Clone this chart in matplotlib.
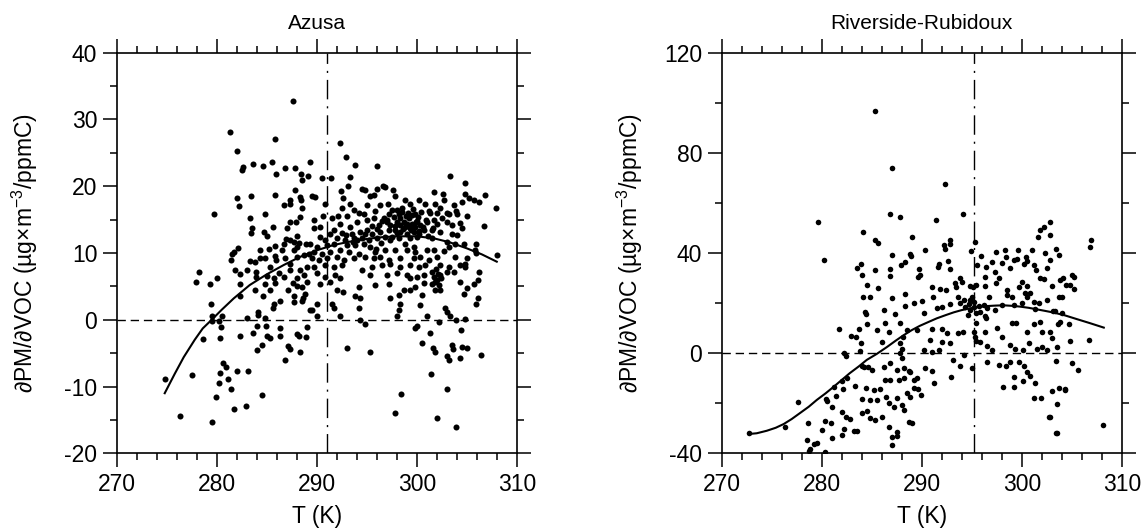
import matplotlib
matplotlib.use("Agg")
import numpy as np
import matplotlib.pyplot as plt
from matplotlib.ticker import MultipleLocator

plt.rcParams['font.family'] = ['Liberation Sans', 'DejaVu Sans']
plt.rcParams['mathtext.fontset'] = 'custom'
plt.rcParams['mathtext.rm'] = 'Liberation Sans'
plt.rcParams['axes.unicode_minus'] = False

#%% data: (T in K, dPM/dVOC)
azusa_pts = [
    (287.6, 32.8), (281.3, 28.1), (285.8, 27.1), (282.0, 25.3), (285.5, 23.7), (283.6, 23.3),
    (284.6, 23.0), (282.6, 22.9), (282.5, 22.5), (286.8, 22.8), (287.8, 22.7), (289.3, 23.7),
    (288.4, 21.9), (289.1, 21.5), (285.9, 21.8), (288.5, 21.0), (287.8, 19.5), (282.0, 18.3),
    (283.4, 18.5), (285.8, 18.7), (282.2, 17.1), (287.3, 18.0), (288.3, 18.4), (288.4, 17.9),
    (286.7, 17.2), (287.3, 17.3), (288.5, 16.8), (279.7, 15.9), (284.8, 15.9), (283.3, 15.3),
    (288.3, 15.4), (287.9, 14.7), (287.3, 14.7), (287.0, 13.8), (285.6, 13.9), (283.5, 13.8),
    (283.4, 13.0), (284.7, 13.2), (285.0, 12.6), (288.0, 12.5), (286.9, 12.1), (287.3, 11.9),
    (287.7, 11.7), (288.2, 11.5), (288.9, 11.3), (286.7, 11.3), (282.1, 10.8), (285.8, 11.0),
    (284.3, 10.5), (285.2, 10.6), (281.7, 10.1), (281.5, 9.8), (286.5, 10.4), (287.7, 10.5),
    (288.0, 10.9), (289.2, 9.9), (288.7, 9.7), (281.4, 8.9), (283.3, 8.8), (283.8, 8.7),
    (284.3, 9.3), (284.8, 9.2), (285.8, 9.5), (285.9, 9.0), (286.8, 9.2), (287.3, 8.4),
    (288.0, 9.4), (281.8, 7.4), (283.0, 7.4), (282.3, 6.9), (283.9, 7.2), (285.3, 7.9),
    (286.2, 7.0), (287.3, 7.4), (288.3, 7.4), (289.0, 7.9), (278.2, 7.2), (283.9, 6.4),
    (285.0, 6.5), (285.7, 6.2), (286.7, 6.4), (288.0, 6.2), (288.7, 6.7), (277.9, 5.6),
    (279.3, 5.3), (280.0, 6.3), (282.3, 5.4), (284.8, 5.3), (285.8, 5.5), (287.6, 5.5),
    (288.0, 5.0), (288.5, 4.9), (283.8, 4.4), (285.3, 4.5), (287.1, 4.5), (282.3, 3.5),
    (284.6, 3.6), (287.7, 3.5), (288.6, 3.2), (285.7, 2.4), (286.3, 2.8), (287.7, 2.6),
    (279.4, 2.3), (285.6, 1.7), (288.5, 2.8), (289.3, 1.5), (279.5, 0.5), (280.5, 0.6),
    (284.1, 1.2), (284.1, 0.7), (283.0, 0.3), (284.8, 0.2), (279.5, -0.2), (280.2, -0.2),
    (280.4, -1.1), (284.0, -0.9), (284.9, -1.0), (286.3, -1.2), (289.0, -1.1), (278.6, -2.9),
    (280.3, -2.8), (282.3, -2.5), (283.6, -2.0), (285.0, -2.4), (285.3, -2.7), (286.3, -2.4),
    (288.0, -2.1), (288.2, -2.5), (288.9, -2.6), (284.5, -3.8), (284.0, -4.5), (287.1, -4.0),
    (287.3, -4.4), (288.3, -4.9), (286.8, -6.0), (280.6, -6.5), (280.9, -7.0), (280.3, -8.0),
    (282.0, -7.7), (283.1, -7.7), (274.8, -8.8), (277.5, -8.3), (281.1, -8.8), (280.2, -9.4),
    (281.4, -10.3), (284.5, -11.3), (279.9, -11.6), (282.9, -12.9), (281.7, -13.4),
    (276.3, -14.4), (279.5, -15.3),
    (292.3, 26.4), (292.9, 24.4), (293.8, 23.2), (296.0, 23.0), (290.5, 21.3), (291.4, 21.2),
    (293.3, 21.4), (303.3, 21.5), (304.8, 20.5), (292.4, 19.3), (293.1, 20.0), (294.5, 19.6),
    (294.8, 19.5), (296.0, 19.6), (296.6, 20.0), (296.8, 19.9), (297.6, 19.5), (289.5, 18.5),
    (289.8, 18.4), (292.6, 18.3), (295.3, 18.5), (295.7, 18.7), (297.8, 18.6), (301.7, 19.1),
    (302.6, 18.8), (304.8, 18.9), (305.2, 18.2), (305.7, 18.0), (290.8, 17.4), (293.3, 17.4),
    (298.8, 17.9), (300.2, 18.0), (292.5, 16.7), (293.7, 16.5), (295.0, 17.2), (296.3, 17.2),
    (297.1, 17.4), (299.3, 17.4), (300.8, 17.4), (301.8, 17.3), (302.7, 17.9), (303.7, 17.2),
    (304.5, 17.7), (290.6, 15.6), (291.5, 15.2), (292.1, 15.5), (293.0, 15.6), (294.2, 16.0),
    (294.7, 15.9), (295.8, 16.3), (297.2, 15.9), (298.0, 16.4), (298.5, 16.2), (299.8, 15.9),
    (301.2, 16.3), (302.3, 16.7), (303.0, 16.0), (304.0, 15.8), (305.0, 15.5), (289.7, 14.9),
    (289.7, 13.8), (290.3, 13.9), (292.3, 14.4), (291.7, 13.4), (293.3, 13.9), (294.0, 14.7),
    (295.0, 14.9), (295.7, 15.2), (296.7, 15.3), (297.7, 15.4), (298.3, 15.2), (298.7, 14.7),
    (299.2, 15.2), (299.5, 14.4), (300.0, 14.8), (300.3, 14.2), (301.0, 14.7), (301.7, 14.9),
    (302.0, 14.3), (303.0, 14.7), (303.5, 14.2), (304.3, 14.5), (304.5, 13.8), (298.3, 14.2),
    (298.0, 14.7), (298.8, 13.9), (299.3, 13.7), (299.8, 13.9), (297.3, 14.2), (297.0, 14.7),
    (296.2, 14.2), (291.3, 12.9), (292.5, 13.0), (293.5, 12.9), (294.3, 13.2), (295.0, 13.5),
    (295.5, 12.9), (296.3, 13.2), (297.2, 13.4), (297.8, 13.5), (298.3, 13.2), (299.0, 12.9),
    (299.7, 13.2), (300.2, 13.3), (300.7, 13.4), (301.5, 13.4), (302.3, 13.2), (303.5, 12.9),
    (304.0, 12.7), (290.3, 12.4), (290.8, 11.9), (292.0, 12.2), (292.8, 11.9), (293.7, 12.2),
    (294.5, 12.3), (295.2, 11.9), (296.0, 12.2), (296.8, 12.4), (297.5, 12.4), (298.2, 12.2),
    (299.3, 12.2), (300.0, 12.4), (301.5, 12.2), (303.0, 11.7), (303.8, 11.4), (304.7, 11.4),
    (289.3, 11.4), (290.0, 10.9), (291.0, 11.2), (291.7, 11.4), (293.0, 11.2), (293.8, 11.2),
    (294.7, 11.3), (295.3, 10.9), (289.7, 10.2), (290.5, 9.9), (291.3, 10.2), (292.3, 10.4),
    (293.2, 10.2), (294.2, 9.9), (295.8, 10.2), (296.8, 10.5), (297.8, 10.4), (299.0, 10.5),
    (299.8, 10.2), (301.0, 10.4), (301.7, 10.5), (302.7, 10.3), (303.2, 10.9), (305.8, 10.5),
    (289.5, 9.2), (290.2, 8.9), (291.0, 9.2), (292.0, 9.4), (292.7, 8.9), (293.7, 9.2),
    (294.8, 9.4), (295.7, 9.2), (296.3, 9.4), (297.2, 8.9), (298.3, 9.2), (299.7, 9.2),
    (300.3, 9.4), (301.2, 8.9), (302.0, 9.4), (303.8, 9.4), (305.0, 9.2), (289.7, 7.9),
    (290.8, 8.2), (291.7, 7.9), (292.5, 8.2), (294.5, 7.4), (295.5, 7.9), (296.5, 8.2),
    (297.3, 8.4), (298.3, 7.9), (299.3, 8.2), (300.2, 7.9), (300.8, 8.2), (302.3, 8.2),
    (303.2, 7.9), (304.3, 8.2), (304.8, 8.4), (290.0, 7.0), (290.8, 6.4), (291.8, 6.7),
    (292.3, 6.2), (295.3, 6.7), (297.0, 6.7), (298.0, 7.0), (299.0, 6.7), (300.0, 6.4),
    (300.7, 6.7), (301.5, 7.2), (301.7, 6.4), (302.0, 5.9), (302.3, 6.7), (303.0, 7.2),
    (303.7, 7.2), (304.8, 7.9), (289.0, 5.7), (290.3, 5.4), (291.3, 5.7), (292.0, 4.4),
    (292.6, 4.2), (294.2, 4.9), (295.8, 5.2), (297.2, 5.4), (299.3, 6.2), (299.8, 4.9),
    (300.7, 5.5), (301.5, 5.4), (301.8, 4.5), (302.3, 4.4), (304.3, 5.7), (305.7, 5.4),
    (293.8, 3.5), (294.3, 3.2), (297.3, 3.2), (298.2, 3.7), (298.7, 4.4), (299.3, 4.5),
    (300.5, 3.7), (304.7, 3.9), (305.0, 4.7), (288.8, 3.9), (291.5, 2.4), (291.7, 1.7),
    (294.2, 1.7), (298.3, 2.4), (298.2, 1.5), (300.3, 2.2), (302.8, 1.7), (303.0, 1.2),
    (303.3, 0.5), (290.0, 2.4), (289.5, 1.5), (290.0, 0.5), (292.3, 0.5), (294.3, 0.0),
    (294.8, -0.6), (298.0, 0.6), (301.0, 0.5), (302.2, -0.3), (303.9, -0.1), (304.8, 0.1),
    (300.0, -1.0), (299.8, -1.3), (301.3, -2.0), (304.4, -1.6), (293.0, -4.3), (295.3, -4.8),
    (300.5, -3.5), (301.6, -4.3), (301.8, -4.8), (303.5, -3.8), (303.6, -4.4), (304.5, -4.1),
    (305.0, -4.2), (303.2, -6.0), (304.3, -5.8), (303.0, -5.5), (301.4, -8.1), (303.0, -10.3),
    (298.4, -11.1), (297.8, -14.0), (302.0, -14.7), (303.9, -16.0),
    (306.8, 18.7), (307.9, 16.7), (306.2, 17.6), (306.7, 14.1), (305.9, 11.4), (308.0, 9.7),
    (305.9, 10.0), (306.2, 7.2), (306.1, 5.9), (306.1, 3.3), (305.9, 2.4), (306.4, -5.3),
    (297.0, 15.0), (297.5, 16.5), (297.8, 14.0), (298.0, 13.0), (298.2, 15.8), (298.5, 16.8),
    (298.6, 13.6), (298.9, 15.5), (299.0, 14.3), (299.1, 16.0), (299.4, 13.4), (299.5, 15.7),
    (299.6, 16.6), (299.9, 14.6), (300.1, 15.4), (300.2, 12.8), (300.4, 16.1), (300.6, 13.9),
    (300.9, 15.0), (301.1, 12.6), (301.3, 16.0), (301.6, 13.8), (296.5, 14.8), (296.0, 13.6),
    (295.5, 14.0), (294.8, 12.8), (294.0, 12.0), (293.6, 11.6), (292.9, 12.7), (297.3, 12.0),
    (298.8, 11.3), (299.7, 10.9), (296.4, 11.5), (295.9, 10.6), (302.5, 15.3), (303.2, 15.8),
    (303.9, 16.3), (302.0, 16.0), (301.9, 7.6), (302.1, 6.9), (302.4, 6.3), (301.8, 5.7),
    (302.2, 5.2),
]

rubidoux_pts = [
    (279.6, 52.5), (280.2, 37.2), (284.1, 48.3), (283.5, 33.9), (283.9, 35.6), (284.0, 31.1),
    (284.5, 27.1), (284.1, 22.4), (284.8, 22.4), (284.3, 16.3), (284.4, 15.8), (281.7, 9.6),
    (283.7, 9.6), (284.5, 11.5), (282.9, 7.0), (283.4, 6.5), (283.9, 3.9), (283.8, 1.0),
    (282.2, -0.1), (282.4, -1.1), (284.0, -5.1), (284.2, -5.4), (284.6, -5.7), (282.5, -10.1),
    (282.0, -11.0), (281.2, -13.6), (282.1, -14.4), (283.3, -13.1), (284.4, -13.9),
    (280.4, -18.4), (280.5, -19.0), (281.4, -17.0), (284.0, -18.4), (284.8, -18.7),
    (277.6, -19.4), (281.0, -21.6), (282.0, -23.4), (282.4, -25.4), (282.8, -26.4),
    (284.0, -24.0), (284.5, -23.2), (284.8, -26.0), (276.3, -29.6), (278.6, -28.0),
    (280.3, -27.0), (280.9, -28.0), (280.0, -30.7), (282.2, -30.2), (283.2, -31.2),
    (283.5, -31.0), (281.0, -33.9), (282.0, -32.5), (278.5, -34.7), (279.2, -36.3),
    (279.5, -36.0), (272.7, -32.0), (278.8, -38.4), (278.7, -39.1), (280.3, -39.5),
    (285.3, 96.8),
    (287.0, 73.9), (292.3, 67.4), (286.8, 55.6), (287.8, 54.5), (294.1, 55.4), (291.4, 53.3),
    (302.2, 50.5), (302.8, 52.3), (301.8, 49.2), (301.6, 46.3), (285.3, 45.2), (285.6, 43.9),
    (289.0, 46.3), (292.8, 45.2), (292.8, 43.5), (292.2, 43.3), (295.3, 44.4), (294.9, 40.9),
    (292.3, 41.5), (290.3, 41.2), (302.8, 47.2), (303.4, 41.5), (287.0, 39.1), (288.8, 39.6),
    (288.9, 38.8), (292.6, 36.8), (295.9, 38.8), (297.4, 40.3), (298.3, 41.1), (299.6, 41.2),
    (301.0, 41.2), (298.4, 38.3), (299.2, 37.2), (299.5, 37.5), (300.4, 38.3), (300.5, 37.0),
    (285.3, 33.2), (286.8, 33.5), (286.8, 30.8), (287.9, 35.2), (288.3, 36.5), (289.7, 33.5),
    (289.8, 31.1), (289.6, 30.3), (291.7, 35.6), (291.6, 34.5), (292.8, 33.6), (295.5, 35.2),
    (296.4, 34.3), (297.0, 36.6), (297.3, 32.6), (298.0, 35.9), (298.8, 33.9), (300.2, 35.5),
    (301.2, 35.2), (301.4, 33.2), (302.5, 33.9), (302.8, 37.2), (302.3, 40.1), (285.6, 25.9),
    (288.3, 23.6), (291.0, 26.3), (291.8, 25.5), (292.4, 25.2), (293.3, 28.2), (293.8, 29.9),
    (294.0, 28.3), (293.4, 26.3), (294.8, 26.8), (295.1, 26.6), (295.4, 27.2), (296.3, 30.3),
    (296.3, 26.8), (297.4, 28.2), (297.7, 29.9), (298.5, 25.2), (299.7, 26.6), (300.0, 28.6),
    (300.5, 26.8), (300.3, 23.9), (301.8, 29.9), (302.2, 29.5), (303.0, 26.8), (303.8, 29.2),
    (304.0, 22.6), (286.2, 17.2), (287.0, 21.9), (287.3, 15.6), (288.3, 19.0), (289.2, 19.9),
    (290.0, 20.9), (290.2, 16.2), (291.1, 22.6), (291.5, 17.9), (292.0, 18.6), (292.8, 19.6),
    (293.6, 22.6), (293.8, 20.2), (294.2, 21.2), (294.7, 19.6), (295.2, 18.6), (295.7, 18.8),
    (294.8, 17.2), (294.6, 15.2), (295.4, 15.9), (295.8, 16.6), (296.5, 17.9), (296.4, 13.9),
    (296.7, 22.6), (297.3, 17.2), (298.0, 19.2), (298.5, 23.2), (299.0, 22.6), (299.2, 19.2),
    (300.0, 19.9), (300.5, 22.6), (300.8, 23.9), (301.2, 20.6), (301.3, 17.5), (301.7, 19.9),
    (302.5, 21.2), (303.3, 17.0), (304.0, 15.9), (285.5, 9.3), (286.3, 11.9), (286.7, 8.6),
    (287.8, 11.9), (288.1, 6.6), (288.5, 9.3), (289.5, 9.3), (291.0, 9.5), (292.0, 9.5),
    (292.5, 7.9), (293.6, 8.2), (294.1, 8.6), (295.3, 6.6), (295.4, 11.9), (296.3, 8.6),
    (297.5, 9.9), (298.0, 6.6), (299.0, 12.2), (299.4, 12.2), (300.5, 8.6), (301.2, 11.6),
    (301.8, 12.6), (302.0, 8.6), (302.8, 8.6), (303.8, 12.6), (286.0, 4.6), (287.8, 3.9),
    (288.0, 1.5), (290.2, 1.3), (290.8, 5.3), (291.0, 0.6), (291.7, 1.3), (292.0, 4.6),
    (292.8, 3.9), (296.5, 2.9), (297.0, 1.3), (298.8, 3.3), (299.3, 1.5), (300.1, 1.3),
    (300.7, 3.9), (301.5, 1.5), (302.0, 2.6), (302.5, 1.3), (303.0, 5.9), (303.5, 2.3),
    (285.0, -6.7), (286.2, -5.4), (286.8, -4.1), (287.8, -0.1), (288.0, -2.1), (287.5, -6.7),
    (288.2, -6.1), (288.7, -7.0), (289.2, -10.7), (289.5, -10.0), (290.3, -6.1), (291.0, -7.0),
    (291.2, -12.0), (292.9, -9.6), (293.1, -2.7), (293.8, -5.1), (294.2, -0.7), (295.0, -6.1),
    (296.5, -3.4), (297.7, -4.7), (298.4, -5.1), (298.8, -3.4), (299.7, -3.4), (300.2, -5.1),
    (300.5, -7.4), (300.8, -9.1), (300.1, -11.0), (299.2, -9.4), (298.1, -13.6),
    (299.2, -13.6), (301.3, -12.0), (301.2, -18.0), (301.9, -18.0), (303.0, -15.0),
    (303.7, -14.0), (304.3, -14.7), (302.8, -25.4), (303.5, -32.0), (285.2, -14.7),
    (285.8, -14.4), (285.5, -18.7), (286.4, -17.4), (286.7, -20.0), (287.2, -21.4),
    (287.5, -18.0), (288.0, -20.7), (288.2, -22.7), (288.5, -16.0), (288.8, -17.4),
    (289.2, -14.0), (289.6, -14.4), (289.9, -16.7), (286.8, -10.7), (287.7, -10.7),
    (288.2, -10.0), (288.8, -7.4), (286.3, -10.7), (286.0, -25.4), (285.3, -26.7),
    (286.7, -29.4), (287.5, -31.4), (287.0, -33.3), (287.5, -33.1), (287.0, -36.7),
    (288.7, -27.4), (289.0, -28.0), (295.0, 22.6), (294.8, 21.2), (295.2, 20.4),
    (294.3, 18.6), (296.2, 19.2), (296.3, 14.8), (295.2, 8.6), (295.4, 5.0), (295.8, 4.6),
    (303.7, 39.0), (304.1, 30.2), (305.0, 31.1), (305.2, 30.5), (304.4, 27.1), (304.8, 27.1),
    (305.2, 25.8), (303.7, 22.6), (303.1, 17.0), (303.6, 11.6), (304.7, 11.6), (304.8, 4.8),
    (305.0, -3.9), (305.6, -6.7), (306.9, 45.1), (306.8, 42.4), (306.7, 5.1), (308.1, -28.7),
    (304.3, -14.4), (303.5, -20.2), (303.4, -32.0), (302.7, -25.5), (303.4, -3.0),
]

# fitted curves
azusa_fit = [
    (274.8, -11.0), (275.8, -8.1), (276.7, -5.6), (277.8, -3.0), (278.6, -1.3), (279.5, 0.0),
    (280.5, 1.5), (281.7, 3.2), (283.3, 5.2), (285.0, 6.8), (286.7, 8.2), (288.3, 9.4),
    (290.0, 10.4), (291.7, 11.2), (293.3, 11.7), (295.0, 12.1), (296.7, 12.4), (298.3, 12.5),
    (300.0, 12.5), (301.7, 12.2), (303.3, 11.6), (305.0, 10.7), (306.5, 9.8), (308.0, 8.7),
]
rubidoux_fit = [
    (272.7, -32.3), (273.5, -32.0), (274.5, -31.0), (275.4, -29.8), (276.2, -28.3),
    (277.0, -26.3), (277.8, -24.0), (278.7, -21.4), (279.5, -18.7), (280.4, -16.0),
    (281.2, -13.4), (282.0, -10.7), (282.8, -8.0), (283.7, -5.3), (284.5, -2.7),
    (285.5, -0.3), (286.5, 2.4), (287.4, 5.0), (288.2, 7.2), (289.0, 9.2), (289.8, 10.9),
    (290.7, 12.5), (291.5, 13.9), (292.4, 15.2), (293.2, 16.3), (294.0, 17.2), (294.8, 17.9),
    (295.7, 18.4), (296.5, 18.8), (297.4, 19.0), (298.2, 19.1), (299.0, 18.9), (299.8, 18.6),
    (300.7, 18.1), (301.5, 17.5), (302.3, 16.9), (303.2, 16.2), (304.3, 15.1), (305.5, 13.6),
    (306.8, 12.0), (308.2, 10.2),
]

T_ref = [291.0, 295.2]          # vertical dash-dot markers
titles = ['Azusa', 'Riverside-Rubidoux']
ylims = [(-20, 40), (-40, 120)]
ymajor = [10, 40]
yminor = [5, 20]
ylabel = '\u2202PM/\u2202VOC (\u00b5g\u00d7m$^{-3}$/ppmC)'

#%% figure
fig = plt.figure(figsize=(11.42, 5.29), dpi=100)
ax1 = fig.add_axes([0.1022, 0.1431, 0.3503, 0.7573])
ax2 = fig.add_axes([0.6320, 0.1431, 0.3503, 0.7573])

panels = [(ax1, azusa_pts, azusa_fit, 19), (ax2, rubidoux_pts, rubidoux_fit, 16)]
for i, (ax, pts, fit, ms) in enumerate(panels):
    p = np.array(pts)
    f = np.array(fit)
    ax.scatter(p[:, 0], p[:, 1], s=ms, c='black', linewidths=0, zorder=3)
    ax.plot(f[:, 0], f[:, 1], color='black', lw=1.5, zorder=4)
    ax.axhline(0, color='black', lw=1.0, dashes=(6, 3.5), zorder=2)
    ax.axvline(T_ref[i], color='black', lw=1.0, dashes=(14, 5, 1.5, 5), zorder=2)

    ax.set_xlim(270, 310)
    ax.set_ylim(*ylims[i])
    ax.xaxis.set_major_locator(MultipleLocator(10))
    ax.xaxis.set_minor_locator(MultipleLocator(2))
    ax.yaxis.set_major_locator(MultipleLocator(ymajor[i]))
    ax.yaxis.set_minor_locator(MultipleLocator(yminor[i]))
    ax.tick_params(which='both', direction='out', top=True, right=True,
                   labeltop=False, labelright=False, width=1.1, colors='black')
    ax.tick_params(which='major', length=10, pad=4, labelsize=16.5)
    ax.tick_params(which='minor', length=5)
    for sp in ax.spines.values():
        sp.set_linewidth(1.2)

    ax.text(0.5, 1.072, titles[i], transform=ax.transAxes, ha='center', va='center', fontsize=15)
    ax.text(0.5, -0.159, 'T (K)', transform=ax.transAxes, ha='center', va='center', fontsize=16.5)
    ax.text(-0.229, 0.5, ylabel, transform=ax.transAxes, ha='center', va='center',
            rotation=90, fontsize=16.5)

fig.savefig('out.png', dpi=100)
